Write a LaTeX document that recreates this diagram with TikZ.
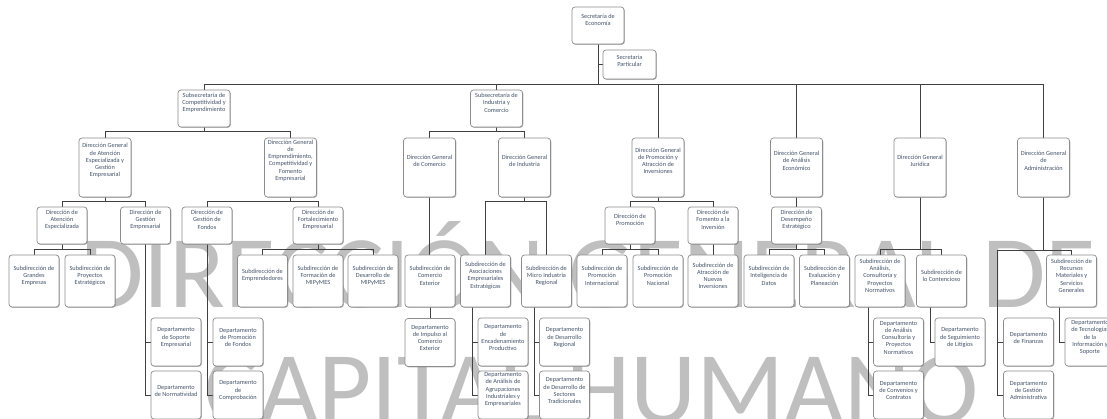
\documentclass[tikz,border=0pt]{standalone}
\usepackage{fontspec}
\setmainfont{Carlito}
\usetikzlibrary{shadows}
\definecolor{txtc}{HTML}{44546A}
\definecolor{linec}{HTML}{404040}
\definecolor{boxc}{HTML}{8C8C8C}
\definecolor{wmc}{HTML}{BFBFBF}
\pgfdeclarelayer{wmk}
\pgfdeclarelayer{bg}
\pgfsetlayers{wmk,bg,main}
\newcommand\bx[7]{%
 \node[orgbox,minimum width=#4pt,minimum height=#5pt] (#1) at (#2,#3) {};
 \node[orgtxt] (#1t) at ([yshift=-#6pt]#1.north) {#7};}
\begin{document}
\begin{tikzpicture}[x=1pt,y=-1pt,
 orgbox/.style={draw=boxc, line width=0.7pt, rounded corners=3pt, fill=white,
   drop shadow={shadow xshift=0.8pt, shadow yshift=-0.8pt, fill=black!50, opacity=0.6}, inner sep=0pt},
 orgtxt/.style={text=txtc, font=\fontsize{6.3}{7.2}\selectfont, align=center, inner sep=0pt},
 conn/.style={draw=linec, line width=0.9pt},
 wmark/.style={text=wmc, font=\fontsize{103}{103}\selectfont, inner sep=0pt}]
\useasboundingbox (0,0) rectangle (1107,418);
\clip (0,0) rectangle (1107,418);
\begin{pgfonlayer}{wmk}
\fill[white] (0,0) rectangle (1107,418);
\node[wmark, anchor=base west] (wm1) at (80,307) {DIRECCIÓN GENERAL DE};
\node[wmark, anchor=base west] (wm2) at (204,423) {CAPITAL HUMANO};
\end{pgfonlayer}
% level 0-1
\bx{sec}{598}{25.5}{52}{37}{13}{Secretaría de\\Economía}
\bx{par}{629.5}{64.5}{53}{29}{11}{Secretaría\\Particular}
\bx{subC}{204}{108.5}{52}{37}{13}{Subsecretaría de\\Competitividad y\\Emprendimiento}
\bx{subI}{496.5}{108.5}{52}{37}{13}{Subsecretaría de\\Industria y\\Comercio}
% direcciones generales
\bx{dgAt}{105}{167.5}{52}{59}{23}{Dirección General\\de Atención\\Especializada y\\Gestión\\Empresarial}
\bx{dgEm}{290.5}{167.5}{52}{59}{23}{Dirección General\\de\\Emprendimiento,\\Competitividad y\\Fomento\\Empresarial}
\bx{dgCo}{429.5}{167.5}{52}{59}{23}{Dirección General\\de Comercio}
\bx{dgIn}{524.5}{167.5}{52}{59}{23}{Dirección General\\de Industria}
\bx{dgPr}{658}{167.5}{52}{59}{23}{Dirección General\\de Promoción y\\Atracción de\\Inversiones}
\bx{dgAn}{796.5}{167.5}{52}{59}{23}{Dirección General\\de Análisis\\Económico}
\bx{dgJu}{920}{167.5}{52}{59}{23}{Dirección General\\Jurídica}
\bx{dgAd}{1043.5}{167.5}{52}{59}{23}{Dirección General\\de\\Administración}
% direcciones
\bx{dAte}{62}{225.5}{50}{37}{13}{Dirección de\\Atención\\Especializada}
\bx{dGes}{145.5}{225.5}{50}{37}{13}{Dirección de\\Gestión\\Empresarial}
\bx{dFon}{207}{225.5}{50}{37}{13}{Dirección de\\Gestión de\\Fondos}
\bx{dFor}{318}{225.5}{50}{37}{13}{Dirección de\\Fortalecimiento\\Empresarial}
\bx{dPro}{630}{225.5}{50}{37}{13}{Dirección de\\Promoción}
\bx{dFom}{713}{225.5}{50}{37}{13}{Dirección de\\Fomento a la\\Inversión}
\bx{dDes}{796.5}{225.5}{50}{37}{13}{Dirección de\\Desempeño\\Estratégico}
% subdirecciones
\bx{sGra}{34}{281}{50}{52}{21}{Subdirección de\\Grandes\\Empresas}
\bx{sPro}{90}{281}{50}{52}{21}{Subdirección de\\Proyectos\\Estratégicos}
\bx{sEmp}{262.5}{281}{50}{52}{21}{Subdirección de\\Emprendedores}
\bx{sFor}{318}{281}{50}{52}{21}{Subdirección de\\Formación de\\MIPyMES}
\bx{sDes}{373}{281}{50}{52}{21}{Subdirección de\\Desarrollo de\\MIPyMES}
\bx{sCom}{430}{281}{50}{52}{21}{Subdirección de\\Comercio\\Exterior}
\bx{sAso}{485.5}{281}{50}{52}{21}{Subdirección de\\Asociaciones\\Empresariales\\Estratégicas}
\bx{sMic}{546.5}{281}{50}{52}{21}{Subdirección de\\Micro Industria\\Regional}
\bx{sPIn}{602}{281}{50}{52}{21}{Subdirección de\\Promoción\\Internacional}
\bx{sPNa}{658}{281}{50}{52}{21}{Subdirección de\\Promoción\\Nacional}
\bx{sAtr}{713}{281}{50}{52}{21}{Subdirección de\\Atracción de\\Nuevas\\Inversiones}
\bx{sInt}{769}{281}{50}{52}{21}{Subdirección de\\Inteligencia de\\Datos}
\bx{sEva}{824.5}{281}{50}{52}{21}{Subdirección de\\Evaluación y\\Planeación}
\bx{sAna}{880}{281}{50}{52}{21}{Subdirección de\\Análisis,\\Consultoría y\\Proyectos\\Normativos}
\bx{sCon}{941.5}{281}{50}{52}{21}{Subdirección de\\lo Contencioso}
\bx{sRec}{1071.5}{281}{50}{52}{21}{Subdirección de\\Recursos\\Materiales y\\Servicios\\Generales}
% departamentos
\bx{pSop}{176}{342}{50}{48}{20}{Departamento\\de Soporte\\Empresarial}
\bx{pNor}{176}{395}{50}{48}{20}{Departamento\\de Normatividad}
\bx{pPFo}{238}{342}{50}{48}{20}{Departamento\\de Promoción\\de Fondos}
\bx{pCmp}{238}{395}{50}{48}{20}{Departamento\\de\\Comprobación}
\bx{pImp}{430}{342.5}{50}{48}{20}{Departamento\\de Impulso al\\Comercio\\Exterior}
\bx{pEnc}{503}{342}{50}{48}{20}{Departamento\\de\\Encadenamiento\\Productivo}
\bx{pAgr}{503}{395}{50}{48}{19}{Departamento\\de Análisis de\\Agrupaciones\\Industriales y\\Empresariales}
\bx{pDRe}{564.5}{342}{50}{48}{20}{Departamento\\de Desarrollo\\Regional}
\bx{pDST}{564.5}{395}{50}{48}{20}{Departamento\\de Desarrollo de\\Sectores\\Tradicionales}
\bx{pACP}{898.5}{342}{50}{48}{20}{Departamento\\de Análisis\\Consultoría y\\Proyectos\\Normativos}
\bx{pCyC}{898.5}{395}{50}{48}{20}{Departamento\\de Convenios y\\Contratos}
\bx{pSeg}{960}{342}{50}{48}{20}{Departamento\\de Seguimiento\\de Litigios}
\bx{pFin}{1028.5}{342}{50}{48}{20}{Departamento\\de Finanzas}
\bx{pGAd}{1028.5}{395}{50}{48}{20}{Departamento\\de Gestión\\Administrativa}
\bx{pTec}{1090}{342}{50}{48}{20}{Departamento\\de Tecnologías\\de la\\Información y\\Soporte}
% connectors
\begin{pgfonlayer}{bg}
\coordinate (busT) at (0,84);
\coordinate (admL) at (997,250);
\draw[conn] (sec.south) -- (sec.south |- busT);
\draw[conn] (par.west) -- (par.west -| sec.south);
\draw[conn] (subC.north |- busT) -- (dgAd.north |- busT);
\foreach \X in {subC,subI,dgPr,dgAn,dgJu,dgAd}{\draw[conn] (\X.north) -- (\X.north |- busT);}
\draw[conn] (subC.south) -- ++(0,5);
\draw[conn] (dgAt.north) -- ++(0,-6) -| (dgEm.north);
\draw[conn] (subI.south) -- ++(0,5);
\draw[conn] (dgCo.north) -- ++(0,-6) -| (dgIn.north);
\draw[conn] (dgAt.south) -- ++(0,5);
\draw[conn] (dAte.north) -- ++(0,-5) -| (dGes.north);
\draw[conn] (dgEm.south) -- ++(0,5);
\draw[conn] (dFon.north) -- ++(0,-5) -| (dFor.north);
\draw[conn] (dgCo.south) -- (dgCo.south |- sCom.north);
\draw[conn] (dgIn.south) -- ++(0,5);
\draw[conn] (sAso.north) -- ++(0,-53) -| (sMic.north);
\draw[conn] (dgPr.south) -- ++(0,5);
\draw[conn] (dPro.north) -- ++(0,-5) -| (dFom.north);
\draw[conn] (dgAn.south) -- (dDes.north);
\draw[conn] (dgJu.south) -- ++(0,53);
\draw[conn] (sAna.north) -- ++(0,-5) -| (sCon.north);
\draw[conn] (dgAd.south) -- (dgAd.south |- admL);
\draw[conn] (admL) -| (sRec.north);
\draw[conn] (admL) |- (pFin.west);
\draw[conn] (admL) |- (pGAd.west);
\draw[conn] (dAte.south) -- ++(0,6);
\draw[conn] (sGra.north) -- ++(0,-5) -| (sPro.north);
\draw[conn] (dGes.south) |- (pSop.west);
\draw[conn] (dGes.south) |- (pNor.west);
\draw[conn] (dFon.south) |- (pPFo.west);
\draw[conn] (dFon.south) |- (pCmp.west);
\draw[conn] (dFor.south) -- ++(0,6);
\draw[conn] (sEmp.north) -- ++(0,-5) -| (sDes.north);
\draw[conn] (dPro.south) -- ++(0,6);
\draw[conn] (sPIn.north) -- ++(0,-5) -| (sPNa.north);
\draw[conn] (dFom.south) -- (sAtr.north);
\draw[conn] (dDes.south) -- ++(0,6);
\draw[conn] (sInt.north) -- ++(0,-5) -| (sEva.north);
\draw[conn] (sCom.south) -- (pImp.north);
\draw[conn] ([xshift=-13.5pt]sAso.south) |- (pEnc.west);
\draw[conn] ([xshift=-13.5pt]sAso.south) |- (pAgr.west);
\draw[conn] ([xshift=-12.5pt]sMic.south) |- (pDRe.west);
\draw[conn] ([xshift=-12.5pt]sMic.south) |- (pDST.west);
\draw[conn] ([xshift=-12pt]sAna.south) |- (pACP.west);
\draw[conn] ([xshift=-12pt]sAna.south) |- (pCyC.west);
\draw[conn] ([xshift=-11.5pt]sCon.south) |- (pSeg.west);
\draw[conn] ([xshift=-12.5pt]sRec.south) |- (pTec.west);
\end{pgfonlayer}
\end{tikzpicture}
\end{document}
